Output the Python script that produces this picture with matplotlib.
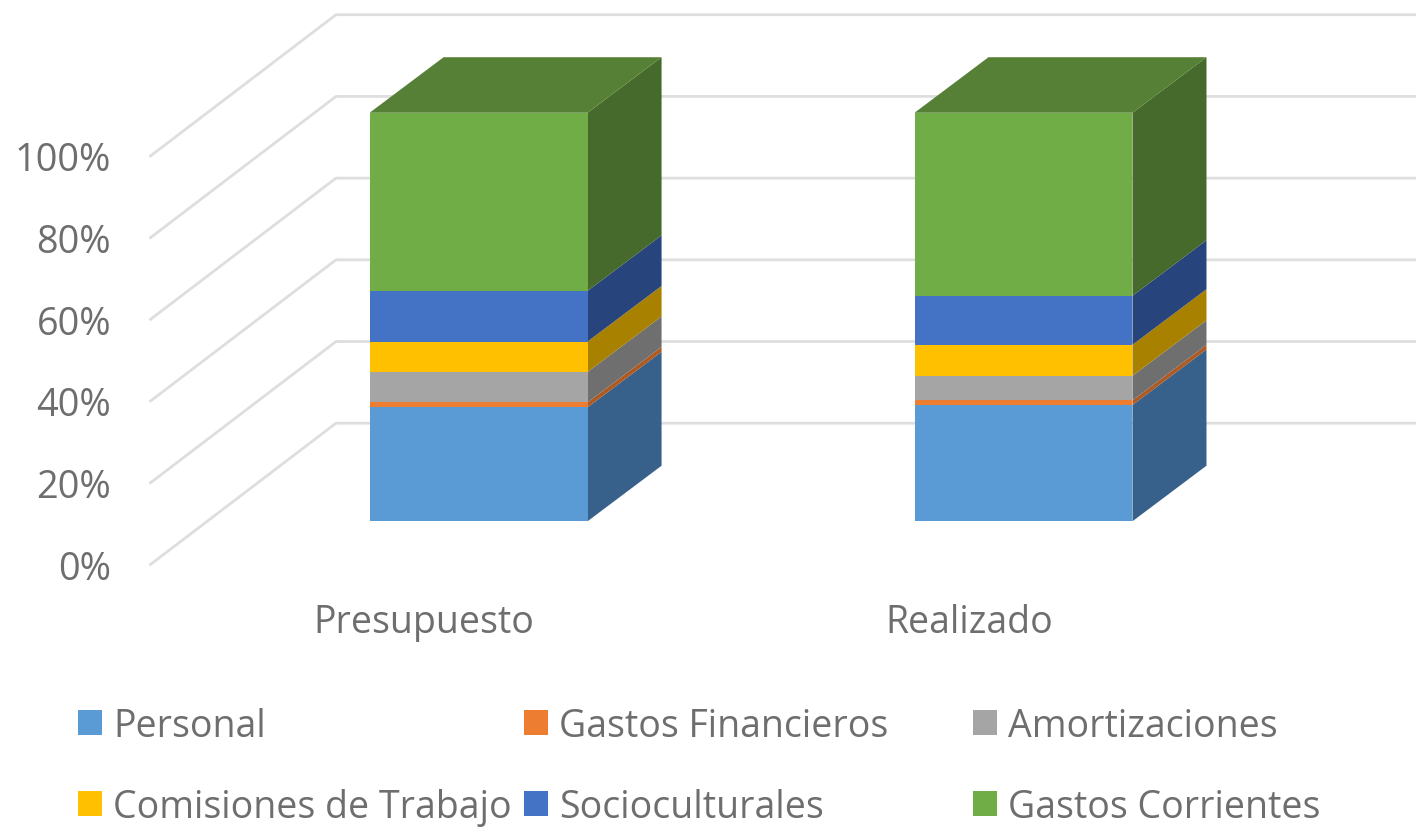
#!/usr/bin/env python3
# -*- coding: utf-8 -*-
# Stacked 100% column chart, drawn with a fake 3D depth like the Excel original
import numpy as np
import matplotlib
matplotlib.use('Agg')
import matplotlib.pyplot as plt
from matplotlib.patches import Rectangle

plt.rcParams['font.family'] = ['Open Sans', 'DejaVu Sans']

categories = ['Presupuesto', 'Realizado']
series_names = ['Personal', 'Gastos Financieros', 'Amortizaciones',
                'Comisiones de Trabajo', 'Socioculturales', 'Gastos Corrientes']

# percent share of each series
personal = [27.9, 28.45]
financieros = [1.2, 1.15]
amortizaciones = [7.45, 6.0]
comisiones = [7.45, 7.6]
socioculturales = [12.4, 12.0]
corrientes = [43.6, 44.8]

tick_values = [0, 20, 40, 60, 80, 100]

front_colors = ['#5B9BD5', '#ED7D31', '#A5A5A5', '#FFC000', '#4472C4', '#70AD47']
side_colors = ['#37618A', '#AE5A21', '#6F6F6F', '#A98100', '#27447C', '#456A2B']
top_color = '#558035'
text_color = '#6E6E6E'
grid_color = '#DEDEDE'

series = [personal, financieros, amortizaciones, comisiones, socioculturales, corrientes]

# depth of the bars, x in category units and y in percent units
bar_width = 0.4
depth_x = 0.1358
depth_y = 13.6

fig = plt.figure(figsize=(14.16, 8.28), dpi=100)
ax = fig.add_axes([0, 0, 1, 1])
ax.set_xlim(-0.8783, 1.7203)
ax.set_ylim(-74.85, 127.85)
ax.axis('off')

# gridlines: oblique on the side wall, then flat along the back wall
for v in tick_values:
    ax.plot([-0.6040, -0.2617, 1.7203], [v - 10.77, v + 24.0, v + 24.0],
            color=grid_color, lw=2.0, zorder=1, solid_joinstyle='round',
            solid_capstyle='butt')
    ax.text(-0.6745, v - 11.6, f'{v}%', ha='right', va='center',
            fontsize=27.3, color=text_color)

# stacks
x = np.arange(len(categories))
bottom = np.zeros(len(categories))
for vals, name, fc, sc in zip(series, series_names, front_colors, side_colors):
    vals = np.array(vals)
    ax.bar(x, vals, bar_width, bottom=bottom, color=fc, zorder=3)
    for xi, b, h in zip(x, bottom, vals):
        right = xi + bar_width / 2
        ax.fill([right, right + depth_x, right + depth_x, right],
                [b, b + depth_y, b + h + depth_y, b + h],
                color=sc, lw=0, zorder=2)
    bottom = bottom + vals

# top face of each stack
for xi, t in zip(x, bottom):
    left = xi - bar_width / 2
    right = xi + bar_width / 2
    ax.fill([left, right, right + depth_x, left + depth_x],
            [t, t, t + depth_y, t + depth_y], color=top_color, lw=0, zorder=2)

for xi, cat in zip(x, categories):
    ax.text(xi - 0.1, -24.6, cat, ha='center', va='center', fontsize=27, color=text_color)

# legend, 3 columns by 2 rows, in figure fractions
col_x = [78 / 1416, 524 / 1416, 973 / 1416]
row_y = [1 - 727 / 828, 1 - 808 / 828]
for i, (name, fc) in enumerate(zip(series_names, front_colors)):
    cx = col_x[i % 3]
    cy = row_y[i // 3]
    ax.add_patch(Rectangle((cx, cy - 9 / 828 + 18 / 828 - 18 / 828), 24 / 1416, 25 / 828, color=fc,
                           lw=0, transform=ax.transAxes, zorder=3))
    ax.text(cx + 35 / 1416, cy, name, ha='left', va='center', fontsize=27,
            color=text_color, transform=ax.transAxes)

fig.savefig('out.png', dpi=100)
